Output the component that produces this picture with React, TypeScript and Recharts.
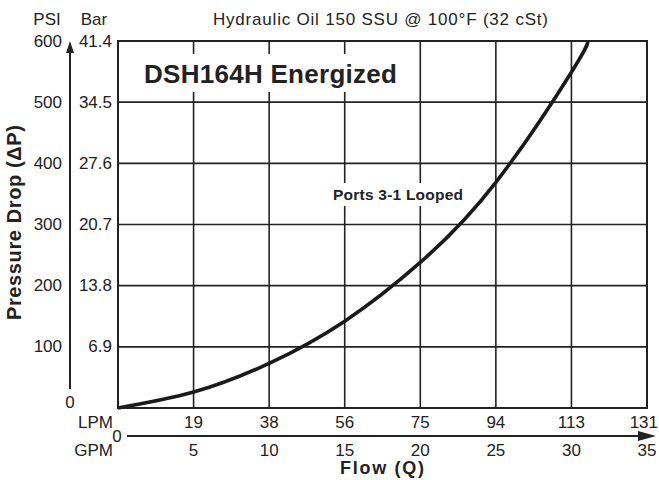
import React from 'react';
import { LineChart, Line, XAxis, YAxis, CartesianGrid } from 'recharts';

// flow in GPM, pressure drop in PSI
const flowGpm = [0, 5, 10, 15, 20, 25, 30, 31.1];
const pressurePsi = [0, 26, 73, 142, 238, 369, 549, 600];

const gpmTicks = [0, 5, 10, 15, 20, 25, 30, 35];
const lpmLabels = ['', '19', '38', '56', '75', '94', '113', '131'];
const psiTicks = [0, 100, 200, 300, 400, 500, 600];
const barLabels = ['', '6.9', '13.8', '20.7', '27.6', '34.5', '41.4'];

const data = flowGpm.map((gpm, i) => ({ gpm, psi: pressurePsi[i] }));

const W = 659;
const H = 480;
const LEFT = 118;
const RIGHT = 647;
const TOP = 41;
const BOTTOM = 408;
const Y_AXIS_W = 60;
const X_AXIS_H = 30;
const FONT = '"Liberation Sans", Arial, Helvetica, sans-serif';
const INK = '#222';

const XTick = (props: any) => {
  const { x, payload } = props;
  const i = gpmTicks.indexOf(payload.value);
  if (i === 0) {
    return (
      <text x={x - 1} y={BOTTOM + 28} textAnchor="middle" dominantBaseline="central" fontSize={17} fill={INK} fontFamily={FONT}>
        0
      </text>
    );
  }
  const last = i === gpmTicks.length - 1;
  return (
    <g fontSize={17} fill={INK} fontFamily={FONT}>
      <text x={last ? W - 1 : x} y={BOTTOM + 14} textAnchor={last ? 'end' : 'middle'} dominantBaseline="central">
        {lpmLabels[i]}
      </text>
      <text x={x} y={BOTTOM + 42} textAnchor="middle" dominantBaseline="central">{payload.value}</text>
    </g>
  );
};

const YTick = (props: any) => {
  const { y, payload } = props;
  const i = psiTicks.indexOf(payload.value);
  if (i === 0) {
    return (
      <text x={70} y={y - 6} textAnchor="middle" dominantBaseline="central" fontSize={17} fill={INK} fontFamily={FONT}>
        0
      </text>
    );
  }
  return (
    <g fontSize={17} fill={INK} fontFamily={FONT}>
      <text x={62} y={y} textAnchor="end" dominantBaseline="central">{payload.value}</text>
      <text x={112} y={y} textAnchor="end" dominantBaseline="central">{barLabels[i]}</text>
    </g>
  );
};

export default function App() {
  return (
    <div style={{ position: 'relative', width: W, height: H, background: '#fff' }}>
      <style>{`body{margin:0}`}</style>
      <LineChart
        width={W}
        height={H}
        data={data}
        margin={{ top: TOP, right: W - RIGHT, left: LEFT - Y_AXIS_W, bottom: H - BOTTOM - X_AXIS_H }}
      >
        <CartesianGrid stroke={INK} strokeWidth={1.6} />
        <XAxis
          type="number"
          dataKey="gpm"
          domain={[0, 35]}
          ticks={gpmTicks}
          axisLine={false}
          tickLine={false}
          height={X_AXIS_H}
          tick={<XTick />}
          interval={0}
        />
        <YAxis
          type="number"
          domain={[0, 600]}
          ticks={psiTicks}
          axisLine={false}
          tickLine={false}
          width={Y_AXIS_W}
          tick={<YTick />}
          interval={0}
        />
        <Line type="natural" dataKey="psi" stroke="#1a1a1a" strokeWidth={3.6} dot={false} isAnimationActive={false} />
      </LineChart>
      <svg width={W} height={H} style={{ position: 'absolute', left: 0, top: 0, pointerEvents: 'none' }} fontFamily={FONT}>
        <rect x={LEFT} y={TOP} width={RIGHT - LEFT} height={BOTTOM - TOP} fill="none" stroke={INK} strokeWidth={2} />
        <rect x={126} y={54} width={278} height={38} fill="#fff" />
        <rect x={330} y={183} width={136} height={23} fill="#fff" />
        <text x={144} y={74} fontSize={26} fontWeight="bold" fill={INK} dominantBaseline="central" textLength={253} lengthAdjust="spacing">DSH164H Energized</text>
        <text x={333} y={194} fontSize={15.5} fontWeight="bold" fill={INK} dominantBaseline="central" textLength={130} lengthAdjust="spacing">Ports 3-1 Looped</text>
        <text x={213} y={19} fontSize={17} fill={INK} dominantBaseline="central" textLength={335} lengthAdjust="spacing">Hydraulic Oil 150 SSU @ 100°F (32 cSt)</text>
        <text x={47} y={19} fontSize={17} fill={INK} textAnchor="middle" dominantBaseline="central">PSI</text>
        <text x={94} y={19} fontSize={17} fill={INK} textAnchor="middle" dominantBaseline="central">Bar</text>
        <text x={113} y={BOTTOM + 14} fontSize={17} fill={INK} textAnchor="end" dominantBaseline="central">LPM</text>
        <text x={113} y={BOTTOM + 42} fontSize={17} fill={INK} textAnchor="end" dominantBaseline="central">GPM</text>
        <text x={340} y={468} fontSize={18} fontWeight="bold" fill={INK} dominantBaseline="central" textLength={84} lengthAdjust="spacing">Flow (Q)</text>
        <text x={14} y={320} fontSize={20} fontWeight="bold" fill={INK} dominantBaseline="central" transform="rotate(-90 14 320)" textLength={195} lengthAdjust="spacing">Pressure Drop (ΔP)</text>
        <line x1={70} y1={389} x2={70} y2={50} stroke={INK} strokeWidth={2} />
        <polygon points="70,41 66,53 74,53" fill={INK} />
        <line x1={127} y1={436} x2={642} y2={436} stroke={INK} strokeWidth={2} />
        <polygon points="656,436 638,431 638,441" fill={INK} />
      </svg>
    </div>
  );
}
